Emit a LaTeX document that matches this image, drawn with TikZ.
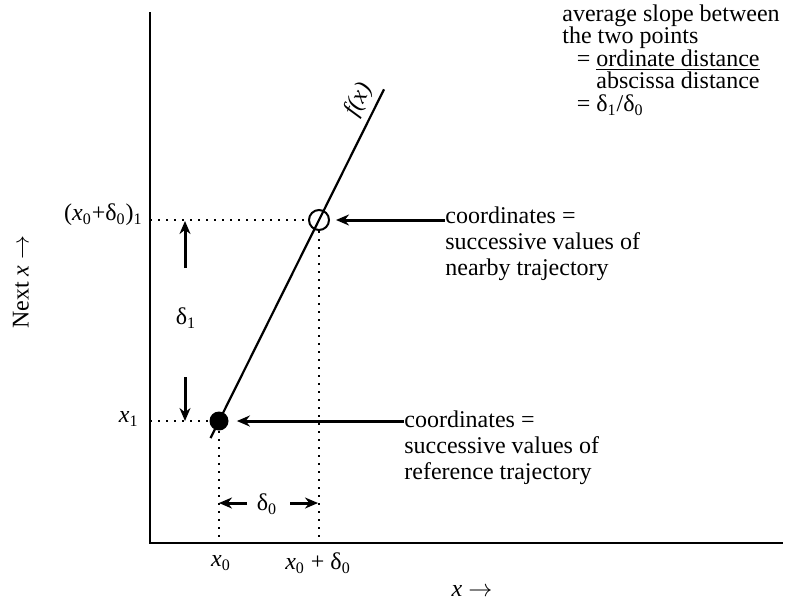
\documentclass[tikz,border=0pt]{standalone}
\usepackage{fontspec}
\setmainfont{Liberation Serif}
\usepackage{tikz}
\usetikzlibrary{arrows.meta,calc,positioning}
\tikzstyle{axis} = [line width=1.1pt]
\tikzstyle{curve} = [line width=1.1pt]
\tikzstyle{guide} = [line width=1.3pt, dash pattern=on 1pt off 3pt]
\tikzstyle{arrow} = [line width=1.5pt, -{Stealth[length=6.5pt,width=5.5pt]}]
\tikzstyle{opendot} = [circle, draw, line width=1pt, minimum size=10pt, inner sep=0pt]
\tikzstyle{filldot} = [circle, fill, minimum size=9.5pt, inner sep=0pt]
\tikzstyle{lbl} = [font=\fontsize{12}{13}\selectfont, inner sep=0pt]
\newcommand{\dlzero}{δ\textsubscript{0}}
\newcommand{\dlone}{δ\textsubscript{1}}
\newcommand{\xv}{\textit{x}}

\begin{document}
\begin{tikzpicture}[x=0.5pt, y=-0.5pt]
\useasboundingbox (0,0) rectangle (785,601);

% ── Axes ────
\coordinate (origin) at (150,543);
\coordinate (ytop) at (150,12);
\coordinate (xend) at (783,543);
\draw[axis] (ytop) -- (origin) -- (xend);

% ── The two points and f(x) ────
\node[filldot] (ref) at (219,421) {};
\node[opendot] (near) at (319,220) {};
\draw[curve] ($(ref)!-0.085!(near)$) -- ($(ref)!1.65!(near)$);
\node[lbl, rotate=63.5, font=\fontsize{12}{13}\selectfont\itshape] (fx) at (359,100) {f(x)};

% ── Dotted guides ────
\draw[guide] (origin |- ref) -- (ref.west);
\draw[guide] (ref.south) -- (ref |- origin);
\draw[guide] (origin |- near) -- (near.west);
\draw[guide] (near.south) -- (near |- origin);

% ── Axis labels ────
\node[lbl, anchor=east] (xone) at (139,419) {\xv\textsubscript{1}};
\node[lbl, anchor=east] (xnear) at (143,215) {(\xv\textsubscript{0}+\dlzero)\textsubscript{1}};
\node[lbl] (xzero) at (221,563) {\xv\textsubscript{0}};
\node[lbl] (xzerod) at (318,563) {\xv\textsubscript{0} + \dlzero};
\node[lbl] (xtitle) at (472,591) {\xv{} $\rightarrow$};
\node[lbl, rotate=90] (ytitle) at (21,282) {Next \xv{} $\rightarrow$};

% ── Delta 1 ────
\node[lbl] (d1) at (186,318) {\dlone};
\coordinate (d1a) at (185,268);
\coordinate (d1b) at (185,221);
\coordinate (d1c) at (185,377);
\coordinate (d1d) at (185,421);
\draw[arrow] (d1a) -- (d1b);
\draw[arrow] (d1c) -- (d1d);

% ── Delta 0 ────
\node[lbl] (d0) at (267,504) {\dlzero};
\coordinate (d0a) at (247,503);
\coordinate (d0b) at (219,503);
\coordinate (d0c) at (290,503);
\coordinate (d0d) at (318,503);
\draw[arrow] (d0a) -- (d0b);
\draw[arrow] (d0c) -- (d0d);

% ── Callouts ────
\node[lbl, anchor=north west, align=left] (neartxt) at (445,206)
  {coordinates =\\successive values of\\nearby trajectory};
\node[lbl, anchor=north west, align=left] (reftxt) at (404,410)
  {coordinates =\\successive values of\\reference trajectory};
\draw[arrow, shorten >=3pt] (neartxt.west |- near) -- (near.east);
\draw[arrow, shorten >=4pt] (reftxt.west |- ref) -- (ref.east);

% ── Slope note ────
\node[lbl, font=\fontsize{12}{11.3}\selectfont, anchor=north west, align=left] (slope) at (562,4)
  {average slope between\\the two points\\
   \hspace{0.6em}= \underline{ordinate distance}\\
   \hspace{0.6em}\phantom{= }abscissa distance\\
   \hspace{0.6em}= \dlone/\dlzero};

\end{tikzpicture}
\end{document}
